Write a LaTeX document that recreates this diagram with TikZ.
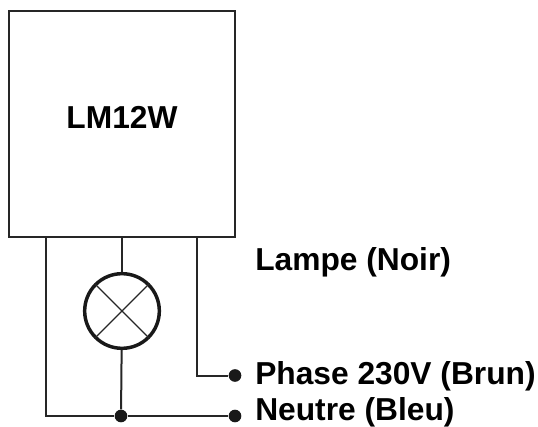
\documentclass[tikz,border=0pt]{standalone}
\usepackage{fontspec}
\setmainfont{Liberation Sans}
\tikzset{
    wire/.style={line width=1.5pt, black!85},
    dot/.style={draw=none, fill=black!90, circle, inner sep=0pt, minimum size=9.5pt},
    label/.style={anchor=base west, inner sep=0pt, font=\fontsize{23.8}{26}\selectfont\bfseries}
}

\begin{document}
\begin{tikzpicture}[x=0.75pt, y=-0.75pt]
    \useasboundingbox (0, 0) rectangle (538, 427);

    \node[draw, wire, rectangle, minimum size=170pt, inner sep=0pt] (module) at (122, 124) {};
    \node[anchor=base, inner sep=0pt, font=\fontsize{23.8}{26}\selectfont\bfseries] (name) at (122, 129) {LM12W};
    \node[draw, black!90, circle, line width=2.6pt, minimum size=56pt, inner sep=0pt] (lamp) at (122, 311) {};
    \node[dot] (tee) at (121, 416) {};
    \node[dot] (phase) at (235, 375.5) {};
    \node[dot] (neutral) at (235, 416) {};
    \coordinate (left) at (46, 237);
    \coordinate (right) at (197, 237);

    \draw[wire] (module.south) -- (lamp);
    \draw[wire] (lamp) -- (tee);
    \draw[wire, line width=1pt] (lamp.45) -- (lamp.225);
    \draw[wire, line width=1pt] (lamp.135) -- (lamp.315);
    \draw[wire] (left) |- (tee);
    \draw[wire] (tee) -- (neutral);
    \draw[wire] (right) |- (phase);

    \node[label] (lampe) at (255, 270.5) {Lampe (Noir)};
    \node[label] (phasetext) at (255, 384.5) {Phase 230V (Brun)};
    \node[label] (neutretext) at (255, 420) {Neutre (Bleu)};
\end{tikzpicture}
\end{document}
